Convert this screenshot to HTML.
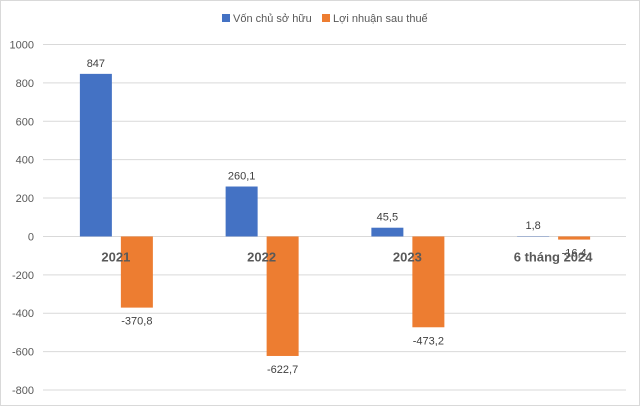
<!DOCTYPE html>
<html><head><meta charset="utf-8"><style>
body{margin:0;background:#fff}
svg{display:block;font-family:"Liberation Sans",sans-serif}
</style></head><body>
<svg id="c" width="640" height="406">
<rect x="0.5" y="0.5" width="639" height="405" fill="#fff" stroke="#d9d9d9"/>
<g>
<rect x="222" y="14" width="8" height="8" fill="#4472c4"/>
<text x="233" y="22" font-size="11" fill="#595959">Vốn chủ sở hữu</text>
<rect x="322" y="14" width="8" height="8" fill="#ed7d31"/>
<text x="333" y="22" font-size="11" fill="#595959">Lợi nhuận sau thuế</text>
</g>
<g id="grid"></g><g id="bars"></g><g id="labels"></g>
</svg>
<script>
const categories=["2021","2022","2023","6 tháng 2024"];
const equity=[847,260.1,45.5,1.8];
const profit=[-370.8,-622.7,-473.2,-16.4];
const ticks=[1000,800,600,400,200,0,-200,-400,-600,-800];
const NS="http://www.w3.org/2000/svg";
const x0=43,x1=626,yTop=44.5,yBot=390;
const y=v=>yTop+(1000-v)*(yBot-yTop)/1800;
const bw=(x1-x0)/categories.length;
const cx=i=>x0+bw*(i+0.5);
const fmt=v=>String(v).replace('.',',');
function mk(tag,attrs,parent){const e=document.createElementNS(NS,tag);for(const k in attrs)e.setAttribute(k,attrs[k]);document.getElementById(parent).appendChild(e);return e;}
ticks.forEach(t=>{
 const l=mk('line',{x1:x0,x2:x1,y1:y(t),y2:y(t),stroke:'#d9d9d9'},'grid');
 
 
 const tx=mk('text',{x:34,y:y(t)+4,'text-anchor':'end','font-size':11,fill:'#595959'},'grid');
 tx.textContent=t;
 
 
});
categories.forEach((c,i)=>{
 const m=cx(i);
 const e=equity[i],p=profit[i];
 const b1=mk('rect',{x:m-36,width:32,y:Math.min(y(e),y(0)),height:Math.abs(y(e)-y(0)),fill:'#4472c4'},'bars');
 
 
 const b2=mk('rect',{x:m+5,width:32,y:Math.min(y(p),y(0)),height:Math.abs(y(p)-y(0)),fill:'#ed7d31'},'bars');
 
 
 const t1=mk('text',{x:m-20,y:y(Math.max(e,0))-7,'text-anchor':'middle','font-size':11,fill:'#404040'},'labels');
 t1.textContent=fmt(e);
 
 
 const t2=mk('text',{x:m+21,y:y(Math.min(p,0))+17,'text-anchor':'middle','font-size':11,fill:'#404040'},'labels');
 t2.textContent=fmt(p);
 
 
 const cl=mk('text',{x:m,y:y(0)+25,'text-anchor':'middle','font-size':13,'font-weight':'bold',fill:'#595959'},'labels');
 cl.textContent=c;
 
 
});
</script>
</body></html>
